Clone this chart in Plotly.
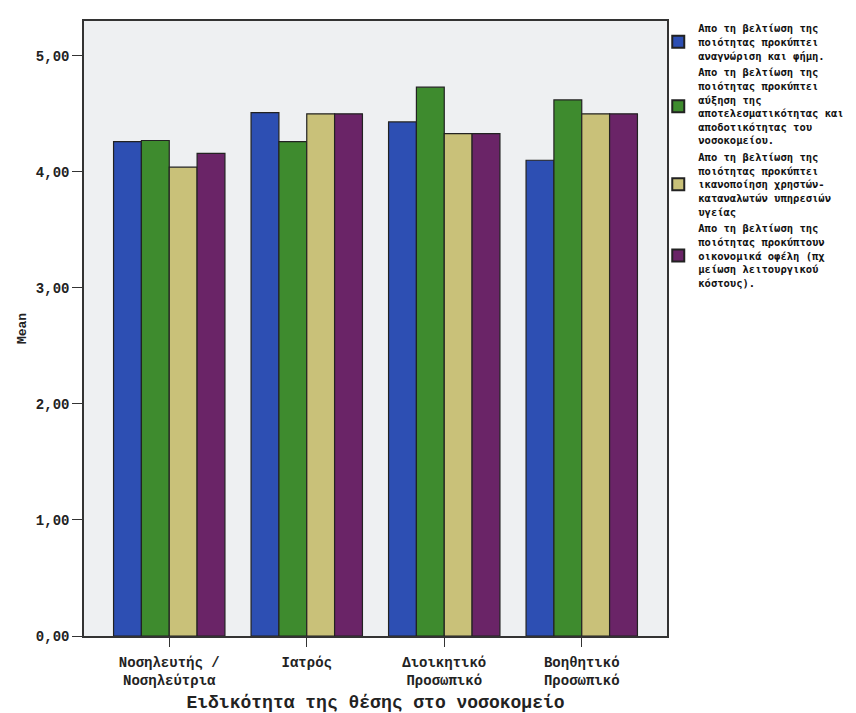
import plotly.graph_objects as go

categories = ["Νοσηλευτής /<br>Νοσηλεύτρια", "Ιατρός", "Διοικητικό<br>Προσωπικό", "Βοηθητικό<br>Προσωπικό"]

series_names = [
    "Απο τη βελτίωση της<br>ποιότητας προκύπτει<br>αναγνώριση και φήμη.",
    "Απο τη βελτίωση της<br>ποιότητας προκύπτει<br>αύξηση της<br>αποτελεσματικότητας και<br>αποδοτικότητας του<br>νοσοκομείου.",
    "Απο τη βελτίωση της<br>ποιότητας προκύπτει<br>ικανοποίηση χρηστών-<br>καταναλωτών υπηρεσιών<br>υγείας",
    "Απο τη βελτίωση της<br>ποιότητας προκύπτουν<br>οικονομικά οφέλη (πχ<br>μείωση λειτουργικού<br>κόστους).",
]

recognition = [4.26, 4.51, 4.43, 4.10]
efficiency = [4.27, 4.26, 4.73, 4.62]
satisfaction = [4.04, 4.50, 4.33, 4.50]
economic = [4.16, 4.50, 4.33, 4.50]

colors = ["#2d4fb3", "#3e8b2e", "#c9c179", "#6a2467"]
values = [recognition, efficiency, satisfaction, economic]

FONT = "Liberation Mono"

fig = go.Figure()
for name, vals, col in zip(series_names, values, colors):
    fig.add_trace(go.Bar(
        x=list(range(len(categories))), y=vals, name=name,
        marker=dict(color=col, line=dict(color="#222222", width=1.2)),
    ))

fig.update_layout(
    width=848, height=705,
    margin=dict(l=76, r=183, t=7, b=77),
    paper_bgcolor="white",
    plot_bgcolor="#eef0f2",
    barmode="group",
    bargap=0.19,
    bargroupgap=0,
    font=dict(family=FONT, color="#222222", size=12),
    showlegend=True,
    legend=dict(
        x=0.985, xanchor="left", y=1.01, yanchor="top",
        font=dict(family="DejaVu Sans Mono", size=10.5, color="#111111", weight="bold"),
        bgcolor="rgba(0,0,0,0)",
        valign="middle",
        tracegroupgap=2,
        itemsizing="constant",
    ),
    xaxis=dict(
        tickmode="array",
        tickvals=list(range(len(categories))),
        ticktext=categories,
        range=[-0.62, 3.62],
        showline=True, linecolor="#333333", linewidth=1.5, mirror=True,
        ticks="outside", ticklen=9, tickcolor="#333333",
        tickfont=dict(family=FONT, size=14, weight="bold"),
        ticklabelstandoff=3,
        showgrid=False, zeroline=False,
        automargin=False,
        title=dict(text="Ειδικότητα της θέσης στο νοσοκομείο",
                   font=dict(family=FONT, size=18, weight="bold"), standoff=10),
    ),
    yaxis=dict(
        range=[0, 5.3],
        tickvals=[0, 1, 2, 3, 4, 5],
        ticktext=["0,00", "1,00", "2,00", "3,00", "4,00", "5,00"],
        showline=True, linecolor="#333333", linewidth=1.5, mirror=True,
        ticks="outside", ticklen=10, tickcolor="#333333",
        tickfont=dict(family=FONT, size=14, weight="bold"),
        showgrid=False, zeroline=False,
        automargin=False,
        title=dict(text="Mean", font=dict(family=FONT, size=13, weight="bold"), standoff=6),
    ),
)

fig.write_html("out.html")
